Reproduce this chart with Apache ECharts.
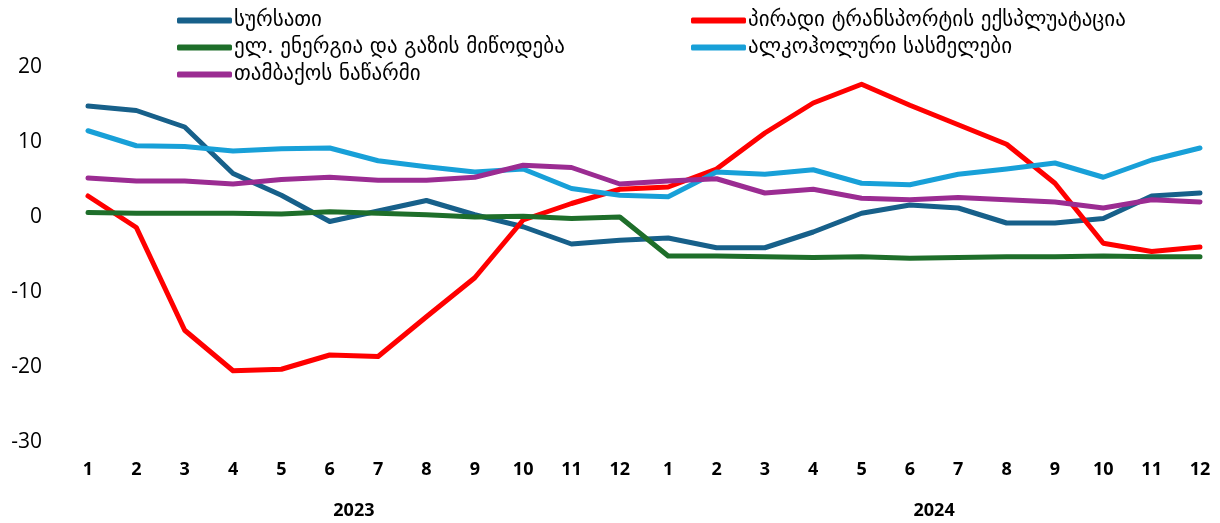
<!DOCTYPE html>
<html><head><meta charset="utf-8">
<script src="https://cdn.jsdelivr.net/npm/echarts@6/dist/echarts.min.js"></script>
<style>html,body{margin:0;padding:0;background:#fff}#c{width:1220px;height:523px}</style>
</head><body><div id="c"></div>
<script>
const months = ['1','2','3','4','5','6','7','8','9','10','11','12','1','2','3','4','5','6','7','8','9','10','11','12'];
const years = ['2023','2024'];
const yTicks = [-30,-20,-10,0,10,20];
const food = [14.8,14.2,12.0,5.8,2.9,-0.6,0.8,2.2,0.3,-1.3,-3.6,-3.1,-2.8,-4.1,-4.1,-2.0,0.5,1.6,1.2,-0.8,-0.8,-0.2,2.8,3.2];
const transport = [2.8,-1.4,-15.1,-20.5,-20.3,-18.4,-18.6,-13.3,-8.1,-0.4,1.8,3.7,4.0,6.4,11.2,15.2,17.7,14.9,12.3,9.7,4.5,-3.5,-4.6,-4.0];
const energy = [0.6,0.5,0.5,0.5,0.4,0.7,0.5,0.3,0.0,0.1,-0.2,0.0,-5.2,-5.2,-5.3,-5.4,-5.3,-5.5,-5.4,-5.3,-5.3,-5.2,-5.3,-5.3];
const alcohol = [11.5,9.5,9.4,8.8,9.1,9.2,7.5,6.7,6.0,6.4,3.8,2.9,2.7,6.0,5.7,6.3,4.5,4.3,5.7,6.4,7.2,5.3,7.6,9.2];
const tobacco = [5.2,4.8,4.8,4.4,5.0,5.3,4.9,4.9,5.3,6.9,6.6,4.4,4.8,5.1,3.2,3.7,2.5,2.3,2.6,2.3,2.0,1.2,2.3,2.0];
const names = ['სურსათი','პირადი ტრანსპორტის ექსპლუატაცია','ელ. ენერგია და გაზის მიწოდება','ალკოჰოლური სასმელები','თამბაქოს ნაწარმი'];
const colors = ['#17608A','#FF0000','#1E6E2A','#18A0D8','#9B2C92'];
const seriesData = [food, transport, energy, alcohol, tobacco];

const chart = echarts.init(document.getElementById('c'), null, {renderer:'canvas'});
const legendCommon = {
  orient:'vertical', itemGap: 6, itemWidth: 55, itemHeight: 6, icon:'roundRect',
  textStyle:{fontFamily:'DejaVu Sans', fontSize:21, lineHeight:21, color:'#000', padding:[0,0,0,-3]}
};
chart.setOption({
  animation:false,
  legend:[
    Object.assign({left:172, top:5, data:[names[0],names[2],names[4]]}, legendCommon),
    Object.assign({left:686, top:5, data:[names[1],names[3]]}, legendCommon)
  ],
  grid:{left:88, right:20, top:67, bottom:81, containLabel:false},
  xAxis:[
    {type:'category', data:months, boundaryGap:false,
     axisLine:{show:false}, axisTick:{show:false},
     axisLabel:{margin:19, fontFamily:'Open Sans', fontWeight:'bold', fontSize:18, color:'#000', interval:0}},
    {type:'value', position:'bottom', min:0, max:23, offset:0,
     axisLine:{show:false}, axisTick:{show:false}, splitLine:{show:false},
     axisLabel:{customValues:[5.5,17.5], margin:60, fontFamily:'Open Sans', fontWeight:'bold', fontSize:18, color:'#000',
       formatter:(v)=> v < 12 ? years[0] : years[1]}}
  ],
  yAxis:{type:'value', min:yTicks[0], max:yTicks[yTicks.length-1], interval:10,
    axisLine:{show:false}, axisTick:{show:false}, splitLine:{show:false},
    axisLabel:{margin:46, fontFamily:'Open Sans', fontSize:21, color:'#000'}},
  series: seriesData.map((d,i)=>({
    name:names[i], type:'line', data:d, xAxisIndex:0, symbol:'none',
    lineStyle:{width:5, color:colors[i], cap:'round', join:'round'},
    itemStyle:{color:colors[i]}
  }))
});
</script></body></html>
